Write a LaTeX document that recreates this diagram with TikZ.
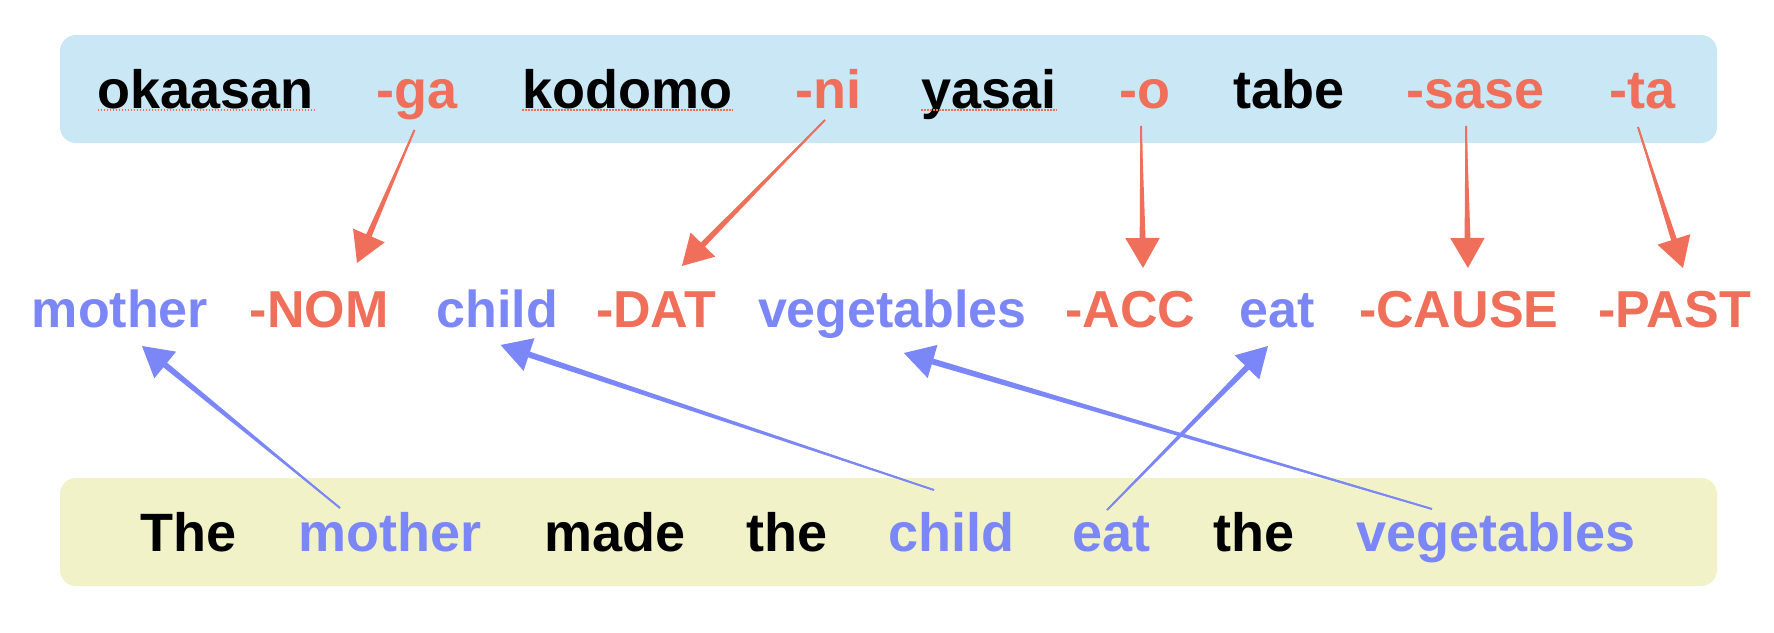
\documentclass[tikz,border=0pt]{standalone}
\usepackage{fontspec}
\setmainfont{Liberation Sans}
\usetikzlibrary{arrows.meta,calc}
\definecolor{jred}{RGB}{239,111,90}
\definecolor{eblue}{RGB}{123,134,247}
\definecolor{topbg}{RGB}{201,231,245}
\definecolor{botbg}{RGB}{242,242,200}
% tapered shaft overlay: colour, start, end
\newcommand\mytaper[3]{%
  \fill[#1] ($(#2)!0.6pt!90:(#3)$) -- ($(#3)!26pt!(#2)!3pt!-90:(#2)$)
    -- ($(#3)!26pt!(#2)!3pt!90:(#2)$) -- ($(#2)!0.6pt!-90:(#3)$) -- cycle;}
\begin{document}
\begin{tikzpicture}[x=1pt,y=-1pt,
  bigword/.style={anchor=base west,inner sep=0pt,font=\fontsize{54}{60}\selectfont\bfseries},
  midword/.style={anchor=base west,inner sep=0pt,font=\fontsize{52}{58}\selectfont\bfseries},
  panel/.style={draw=none,rounded corners=16pt,inner sep=0pt,minimum width=1657pt,minimum height=108pt},
  redarr/.style={draw=jred,line width=2pt,-{Triangle[length=30pt,width=34pt]}},
  bluearr/.style={draw=eblue,line width=2pt,-{Triangle[length=30pt,width=34pt]}},
  spell/.style={draw=jred,line width=1.4pt,dash pattern=on 1.5pt off 1.5pt}]
\useasboundingbox (0,0) rectangle (1774,632);
% panels
\node[panel,fill=topbg] (toppanel) at (888.5,89) {};
\node[panel,fill=botbg] (botpanel) at (888.5,532) {};
% top row
\node[bigword] (okaasan) at (97.6,108) {okaasan};
\node[bigword,text=jred] (ga) at (376,108) {-ga};
\node[bigword] (kodomo) at (522,108) {kodomo};
\node[bigword,text=jred] (ni) at (795,108) {-ni};
\node[bigword] (yasai) at (921,108) {yasai};
\node[bigword,text=jred] (o) at (1119,108) {-o};
\node[bigword] (tabe) at (1233,108) {tabe};
\node[bigword,text=jred] (sase) at (1406,108) {-sase};
\node[bigword,text=jred] (ta) at (1609,108) {-ta};
\foreach \w in {okaasan,kodomo,yasai}
  \draw[spell] ([yshift=-2pt]\w.base west) -- ([yshift=-2pt]\w.base east);
% middle row
\node[midword,text=eblue] (mmother) at (31.6,327) {mother};
\node[midword,text=jred] (NOM) at (249.7,327) {-NOM};
\node[midword,text=eblue] (mchild) at (436.3,327) {child};
\node[midword,text=jred] (DAT) at (595.9,327) {-DAT};
\node[midword,text=eblue] (mveg) at (757.8,327) {vegetables};
\node[midword,text=jred] (ACC) at (1065.3,327) {-ACC};
\node[midword,text=eblue] (meat) at (1239.2,327) {eat};
\node[midword,text=jred] (CAUSE) at (1358.9,327) {-CAUSE};
\node[midword,text=jred] (PAST) at (1598.4,327) {-PAST};
% bottom row
\node[bigword] (The) at (140.6,551) {The};
\node[bigword,text=eblue] (bmother) at (298.5,551) {mother};
\node[bigword] (made) at (544.2,551) {made};
\node[bigword] (the1) at (746.3,551) {the};
\node[bigword,text=eblue] (bchild) at (888.6,551) {child};
\node[bigword,text=eblue] (beat) at (1072.7,551) {eat};
\node[bigword] (the2) at (1213.5,551) {the};
\node[bigword,text=eblue] (bveg) at (1356.1,551) {vegetables};
% arrow end points
\coordinate (gaS) at ($(ga.base west)+(38.5,22)$);
\coordinate (NOMT) at ($(NOM.base west)+(107.3,-64)$);
\coordinate (niS) at ($(ni.base west)+(30,12)$);
\coordinate (DATT) at ($(DAT.base west)+(86,-61)$);
\coordinate (oS) at ($(o.base west)+(22,18)$);
\coordinate (ACCT) at ($(ACC.base west)+(77.7,-59)$);
\coordinate (saseS) at ($(sase.base west)+(60,18)$);
\coordinate (CAUSET) at ($(CAUSE.base west)+(109,-59)$);
\coordinate (taS) at ($(ta.base west)+(29,19)$);
\coordinate (PASTT) at ($(PAST.base west)+(84.6,-59)$);
\coordinate (bmotherS) at ($(bmother.base west)+(41.5,-43)$);
\coordinate (mmotherT) at ($(mmother.base west)+(110.4,19)$);
\coordinate (bchildS) at ($(bchild.base west)+(45.4,-61)$);
\coordinate (mchildT) at ($(mchild.base west)+(64.3,18)$);
\coordinate (beatS) at ($(beat.base west)+(34.3,-41)$);
\coordinate (meatT) at ($(meat.base west)+(28.8,19)$);
\coordinate (bvegS) at ($(bveg.base west)+(75.9,-42)$);
\coordinate (mvegT) at ($(mveg.base west)+(146,26)$);
% red arrows
\draw[redarr] (gaS) -- (NOMT);
\draw[redarr] (niS) -- (DATT);
\draw[redarr] (oS) -- (ACCT);
\draw[redarr] (saseS) -- (CAUSET);
\draw[redarr] (taS) -- (PASTT);
\mytaper{jred}{gaS}{NOMT}
\mytaper{jred}{niS}{DATT}
\mytaper{jred}{oS}{ACCT}
\mytaper{jred}{saseS}{CAUSET}
\mytaper{jred}{taS}{PASTT}
% blue arrows
\draw[bluearr] (bmotherS) -- (mmotherT);
\draw[bluearr] (bchildS) -- (mchildT);
\draw[bluearr] (beatS) -- (meatT);
\draw[bluearr] (bvegS) -- (mvegT);
\mytaper{eblue}{bmotherS}{mmotherT}
\mytaper{eblue}{bchildS}{mchildT}
\mytaper{eblue}{beatS}{meatT}
\mytaper{eblue}{bvegS}{mvegT}
\end{tikzpicture}
\end{document}
